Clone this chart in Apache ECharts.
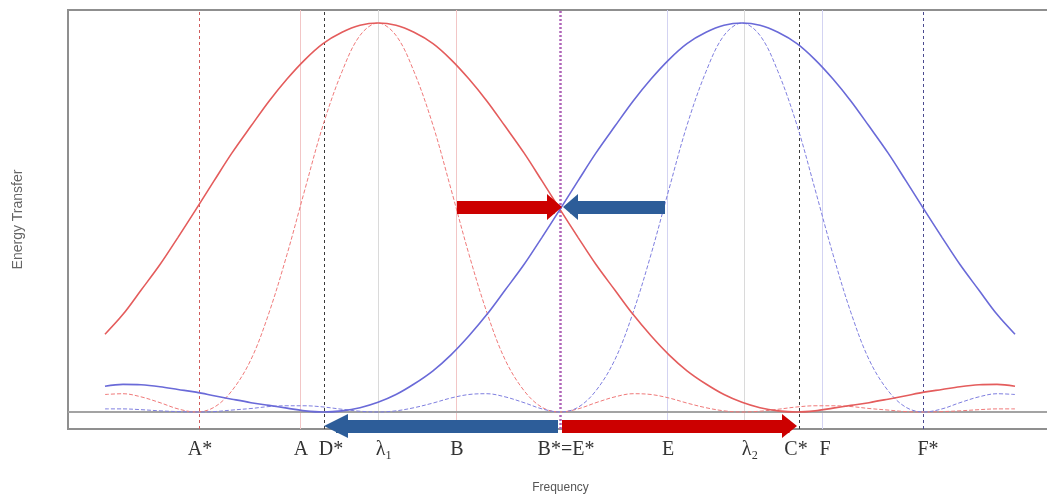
<!DOCTYPE html>
<html><head><meta charset="utf-8">
<script src="https://cdn.jsdelivr.net/npm/echarts@6/dist/echarts.min.js"></script>
<style>html,body{margin:0;padding:0;background:#fff}#c{width:1047px;height:500px}</style>
</head><body><div id="c"></div>
<script>
// ---------- data ----------
const freq = [3.7, 5.5, 7.3, 9.2, 11.0, 12.8, 14.6, 16.4, 18.3, 20.1, 21.9, 23.7, 25.5, 27.4, 29.2, 31.0, 32.8, 34.6, 36.5, 38.3, 40.1, 41.9, 43.7, 45.6, 47.4, 49.2, 51.0, 52.8, 54.7, 56.5, 58.3, 60.1, 61.9, 63.8, 65.6, 67.4, 69.2, 71.0, 72.9, 74.7, 76.5, 78.3, 80.1, 82.0, 83.8, 85.6, 87.4, 89.2, 91.1, 92.9, 94.7];

const redBroad = [0.200, 0.251, 0.313, 0.379, 0.449, 0.521, 0.594, 0.666, 0.735, 0.799, 0.856, 0.906, 0.947, 0.976, 0.994, 1.000, 0.994, 0.976, 0.947, 0.906, 0.856, 0.799, 0.735, 0.666, 0.594, 0.521, 0.449, 0.379, 0.313, 0.251, 0.196, 0.147, 0.106, 0.072, 0.045, 0.025, 0.011, 0.003, 0.000, 0.003, 0.010, 0.017, 0.024, 0.033, 0.042, 0.051, 0.058, 0.065, 0.070, 0.071, 0.066];

const redNarrow = [0.045, 0.047, 0.039, 0.024, 0.008, 0.000, 0.012, 0.055, 0.135, 0.255, 0.405, 0.573, 0.737, 0.875, 0.968, 1.000, 0.968, 0.875, 0.737, 0.573, 0.405, 0.255, 0.135, 0.055, 0.012, 0.000, 0.008, 0.024, 0.039, 0.047, 0.045, 0.036, 0.023, 0.011, 0.003, 0.000, 0.002, 0.007, 0.013, 0.016, 0.016, 0.014, 0.009, 0.005, 0.001, 0.000, 0.001, 0.003, 0.006, 0.008, 0.008];

const blueBroad = [0.066, 0.071, 0.070, 0.065, 0.058, 0.051, 0.042, 0.033, 0.024, 0.017, 0.010, 0.003, 0.000, 0.003, 0.011, 0.025, 0.045, 0.072, 0.106, 0.147, 0.196, 0.251, 0.313, 0.379, 0.449, 0.521, 0.594, 0.666, 0.735, 0.799, 0.856, 0.906, 0.947, 0.976, 0.994, 1.000, 0.994, 0.976, 0.947, 0.906, 0.856, 0.799, 0.735, 0.666, 0.594, 0.521, 0.449, 0.379, 0.313, 0.251, 0.200];

const blueNarrow = [0.008, 0.008, 0.006, 0.003, 0.001, 0.000, 0.001, 0.005, 0.009, 0.014, 0.016, 0.016, 0.013, 0.007, 0.002, 0.000, 0.003, 0.011, 0.023, 0.036, 0.045, 0.047, 0.039, 0.024, 0.008, 0.000, 0.012, 0.055, 0.135, 0.255, 0.405, 0.573, 0.737, 0.875, 0.968, 1.000, 0.968, 0.875, 0.737, 0.573, 0.405, 0.255, 0.135, 0.055, 0.012, 0.000, 0.008, 0.024, 0.039, 0.047, 0.045];

// vertical marker lines (frequency positions)
const markerLines = [13.1, 23.2, 25.6, 31.0, 38.8, 49.2, 59.9, 67.6, 73.1, 75.4, 85.5];
// tick labels and where they sit
const tickLabels = ['A*', 'A', 'D*', 'λ₁', 'B', 'B*=E*', 'E', 'λ₂', 'C*', 'F', 'F*'];
const tickPos = [13.2, 23.3, 26.3, 31.6, 38.9, 49.8, 60.0, 68.2, 72.8, 75.7, 86.0];

// arrows: [start freq, tip freq, level]
const arrowRedTop = [38.9, 49.4, 0.527];
const arrowBlueTop = [59.7, 49.5, 0.527];
const arrowBlueBottom = [49.0, 25.6, -0.036];
const arrowRedBottom = [49.4, 72.9, -0.036];

// ---------- styles ----------
const vStyles = [
  {color: '#cf5c5c', type: [3, 3], width: 1},
  {color: '#f2c6c6', type: 'solid', width: 1},
  {color: '#3a3a3a', type: [3, 3], width: 1},
  {color: '#dadada', type: 'solid', width: 1},
  {color: '#f2c6c6', type: 'solid', width: 1},
  {color: '#b066b8', type: [2, 2], width: 2.5},
  {color: '#d3d3f2', type: 'solid', width: 1},
  {color: '#dadada', type: 'solid', width: 1},
  {color: '#3a3a3a', type: [3, 3], width: 1},
  {color: '#d3d3f2', type: 'solid', width: 1},
  {color: '#4a4a90', type: [3, 3], width: 1}
];

const GRID_LEFT = 68, GRID_W = 985, X_MIN = 0, X_MAX = 98.5;
const pxPerUnit = GRID_W / (X_MAX - X_MIN);

function arrowLine(a, color, body, headW, headL) {
  const dir = a[1] > a[0] ? 1 : -1;
  const end = a[1] - dir * (headL / 2) / pxPerUnit;
  return [
    {coord: [a[0], a[2]], symbol: 'none', lineStyle: {color: color, width: body, type: 'solid', opacity: 1, cap: 'butt'}},
    {coord: [end, a[2]], symbol: 'triangle', symbolSize: [headW, headL], itemStyle: {color: color}}
  ];
}

const pairs = (ys) => freq.map((x, i) => [x, ys[i]]);

const chart = echarts.init(document.getElementById('c'), null, {renderer: 'canvas'});
chart.setOption({
  animation: false,
  backgroundColor: '#ffffff',
  grid: {left: GRID_LEFT, top: 10, width: GRID_W, height: 419, show: true,
         borderColor: '#8f8f8f', borderWidth: 2, backgroundColor: 'transparent',
         containLabel: false, outerBoundsMode: 'none'},
  xAxis: {
    type: 'value', min: X_MIN, max: X_MAX,
    name: 'Frequency', nameLocation: 'middle', nameGap: 53,
    nameTextStyle: {fontFamily: 'Liberation Sans', fontSize: 12, color: '#555'},
    axisLine: {show: false}, axisTick: {show: false}, splitLine: {show: false},
    axisLabel: {
      customValues: tickPos, margin: 11,
      fontFamily: 'Liberation Serif', fontSize: 20, color: '#333',
      formatter: (v) => { const k = tickPos.indexOf(v); return k >= 0 ? tickLabels[k] : ''; }
    }
  },
  yAxis: {
    type: 'value', min: -0.0437, max: 1.0334,
    name: 'Energy Transfer', nameLocation: 'middle', nameGap: 43,
    nameTextStyle: {fontFamily: 'Liberation Sans', fontSize: 14, color: '#666'},
    axisLine: {show: false}, axisTick: {show: false}, splitLine: {show: false},
    axisLabel: {show: false}
  },
  series: [
    {
      type: 'line', data: [], silent: true,
      markLine: {
        silent: true, symbol: 'none', z: 1, animation: false, label: {show: false},
        emphasis: {disabled: true},
        data: markerLines.map((x, i) => ({xAxis: x, lineStyle: vStyles[i]}))
          .concat([{yAxis: 0, lineStyle: {color: '#a3a3a3', width: 2, type: 'solid'}}])
      }
    },
    {type: 'line', data: pairs(redNarrow), smooth: 0.35, showSymbol: false, silent: true,
     lineStyle: {color: '#f07a7a', width: 1, type: [4, 2]}, z: 3},
    {type: 'line', data: pairs(blueNarrow), smooth: 0.35, showSymbol: false, silent: true,
     lineStyle: {color: '#7f7fe0', width: 1, type: [4, 2]}, z: 3},
    {type: 'line', data: pairs(redBroad), smooth: 0.35, showSymbol: false, silent: true,
     lineStyle: {color: '#e45c5c', width: 1.6}, z: 4},
    {type: 'line', data: pairs(blueBroad), smooth: 0.35, showSymbol: false, silent: true,
     lineStyle: {color: '#6a6ad8', width: 1.6}, z: 4},
    {
      type: 'line', data: [], clip: false, silent: true,
      markLine: {
        silent: true, z: 10, animation: false, label: {show: false},
        emphasis: {disabled: true},
        data: [
          arrowLine(arrowRedTop, '#cc0000', 13, 26, 15),
          arrowLine(arrowBlueTop, '#2d5d99', 13, 26, 15),
          arrowLine(arrowBlueBottom, '#2d5d99', 13, 24, 24),
          arrowLine(arrowRedBottom, '#cc0000', 13, 24, 15)
        ]
      }
    }
  ]
});
</script></body></html>
